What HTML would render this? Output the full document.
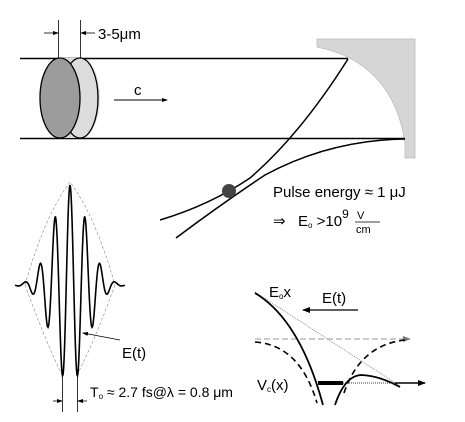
<!DOCTYPE html>
<html><head><meta charset="utf-8"><style>
html,body{margin:0;padding:0;background:#fff;}
svg{display:block;font-family:"Liberation Sans",Arial,sans-serif;}
</style></head><body>
<svg id="fig" width="465" height="422" viewBox="0 0 465 422">
<defs>
<marker id="ah" markerWidth="8" markerHeight="6" refX="7" refY="3" orient="auto" markerUnits="userSpaceOnUse"><path d="M0,0 L8,3 L0,6 Z" fill="#000"/></marker>
<marker id="ahs" markerWidth="6" markerHeight="4" refX="5" refY="2" orient="auto" markerUnits="userSpaceOnUse"><path d="M0,0 L6,2 L0,4 Z" fill="#000"/></marker>
<marker id="ahg" markerWidth="8" markerHeight="6" refX="7" refY="3" orient="auto" markerUnits="userSpaceOnUse"><path d="M0,0 L8,3 L0,6 Z" fill="#777"/></marker>
</defs>
<path d="M317,39 L415,39 L415,158 L405,158 L405,142 Q392,62 317,47 Z" fill="#d6d6d6" stroke="#bbb" stroke-width="0.8"/>
<line x1="20" y1="58.5" x2="348" y2="58.5" stroke="#000" stroke-width="1.5"/>
<line x1="20" y1="138.5" x2="405" y2="138.5" stroke="#000" stroke-width="1.5"/>
<g>
<path d="M60,58 L80,58 A20,40 0 0 1 80,138 L60,138 Z" fill="#dcdcdc"/>
<ellipse cx="80" cy="98" rx="18" ry="40" fill="#dcdcdc" stroke="#000" stroke-width="1.3"/>
<ellipse cx="60" cy="98" rx="20" ry="40" fill="#9c9c9c" stroke="#000" stroke-width="1.3"/>
</g>
<g stroke="#000" stroke-width="0.8">
<line x1="58.5" y1="20" x2="58.5" y2="58"/><line x1="80.5" y1="20" x2="80.5" y2="58"/>
<line x1="44" y1="33" x2="58" y2="33" marker-end="url(#ahs)"/>
<line x1="95" y1="33" x2="81" y2="33" marker-end="url(#ahs)"/>
</g>
<text x="98" y="39" font-size="15">3-5μm</text>
<text x="134" y="95" font-size="15">c</text>
<line x1="114" y1="100" x2="167" y2="100" stroke="#000" stroke-width="1" marker-end="url(#ahs)"/>
<path d="M348,59 Q300,135 250,178 Q210,205 160,220" fill="none" stroke="#000" stroke-width="1.5"/>
<path d="M405,139 Q330,140 265,175 Q220,205 176,238" fill="none" stroke="#000" stroke-width="1.5"/>
<circle cx="229" cy="191" r="7" fill="#444"/>
<text x="273" y="197" font-size="15">Pulse energy ≈ 1 μJ</text>
<g font-size="15">
<text x="273" y="226">⇒</text>
<text x="298" y="226">E<tspan font-size="8" dy="2">o</tspan><tspan dy="-2"> &gt;10</tspan><tspan font-size="12" dy="-8">9</tspan></text>
<text x="357" y="219" font-size="11">V</text>
<line x1="355" y1="222" x2="380" y2="222" stroke="#000" stroke-width="0.8"/>
<text x="356" y="233" font-size="11">cm</text>
</g>
<path d="M25,285 Q45,215 70,182 Q95,215 115,285 M25,285 Q45,340 62,375 M115,285 Q95,340 77,375" fill="none" stroke="#888" stroke-width="0.6" stroke-dasharray="3,2"/>
<path id="pulse" fill="none" stroke="#000" stroke-width="1.6"/>
<g stroke="#000" stroke-width="0.8">
<line x1="62.5" y1="372" x2="62.5" y2="412"/><line x1="77.5" y1="372" x2="77.5" y2="412"/>
<line x1="53" y1="401" x2="62" y2="401" marker-end="url(#ahs)"/>
<line x1="87" y1="401" x2="78" y2="401" marker-end="url(#ahs)"/>
</g>
<line x1="120" y1="340" x2="83" y2="333" stroke="#000" stroke-width="0.8" marker-end="url(#ahs)"/>
<text x="122" y="358" font-size="15">E(t)</text>
<g font-size="14">
<text x="90" y="397">T<tspan font-size="8" dy="2">o</tspan><tspan dy="-2"> ≈ 2.7 fs@λ = 0.8 μm</tspan></text>
</g>
<line x1="255" y1="339" x2="410" y2="339" stroke="#777" stroke-width="0.7" stroke-dasharray="6,3" marker-end="url(#ahg)"/>
<line x1="255" y1="292" x2="400" y2="386" stroke="#555" stroke-width="0.6" stroke-dasharray="1,1"/>
<path d="M255,342 Q300,345 317,403" fill="none" stroke="#000" stroke-width="1.6" stroke-dasharray="6,4"/>
<path d="M344,393 Q360,345 405,340" fill="none" stroke="#000" stroke-width="1.6" stroke-dasharray="6,4"/>
<path d="M255,293 Q300,320 323,405" fill="none" stroke="#000" stroke-width="1.8"/>
<path d="M335,405 Q345,375 362,375 Q380,376 400,387" fill="none" stroke="#000" stroke-width="1.8"/>
<line x1="343" y1="383" x2="425" y2="383" stroke="#000" stroke-width="0.8" stroke-dasharray="1,1"/>
<line x1="395" y1="383" x2="425" y2="383" stroke="#000" stroke-width="1.5" marker-end="url(#ah)"/>
<line x1="318" y1="383" x2="343" y2="383" stroke="#000" stroke-width="4"/>
<text x="269" y="297" font-size="15">E<tspan font-size="8" dy="2">o</tspan><tspan dy="-2">x</tspan></text>
<text x="322" y="303" font-size="15">E(t)</text>
<line x1="358" y1="310" x2="303" y2="310" stroke="#000" stroke-width="1.3" marker-end="url(#ah)"/>
<text x="257" y="390" font-size="15">V<tspan font-size="8" dy="2">c</tspan><tspan dy="-2">(x)</tspan></text>
</svg>
<script>
const pulseCenter=[70], pulseBase=[285], pulseAmp=[100], pulsePeriod=[15], pulseSigma=[17];
let d='';
for(let x=15;x<=125;x+=0.5){
 const t=x-pulseCenter[0];
 const y=pulseBase[0]-pulseAmp[0]*Math.exp(-t*t/(2*pulseSigma[0]*pulseSigma[0]))*Math.cos(2*Math.PI*t/pulsePeriod[0]);
 d+=(d?'L':'M')+x.toFixed(1)+','+y.toFixed(1);
}
document.getElementById('pulse').setAttribute('d',d);
</script>
</body></html>
